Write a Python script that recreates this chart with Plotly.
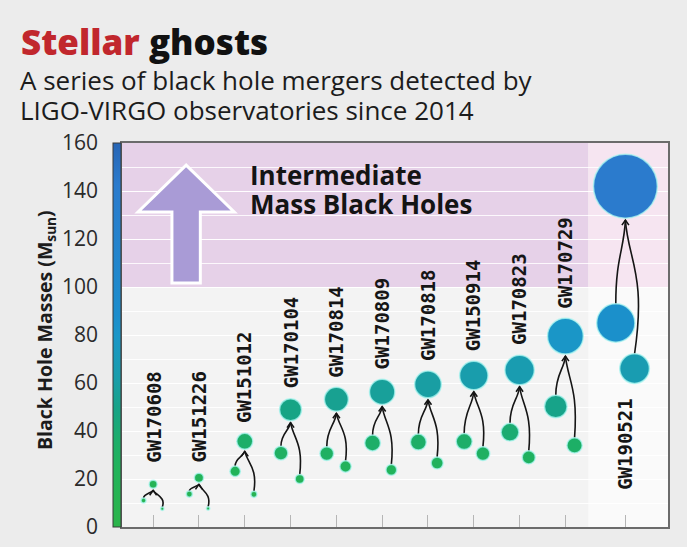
import plotly.graph_objects as go

# ---------------- data ----------------
events = ["GW170608", "GW151226", "GW151012", "GW170104", "GW170814", "GW170809",
          "GW170818", "GW150914", "GW170823", "GW170729", "GW190521"]
primary = [11.0, 13.7, 23.2, 30.8, 30.6, 35.0, 35.4, 35.6, 39.5, 50.2, 85.0]
secondary = [7.6, 7.7, 13.6, 20.0, 25.2, 23.8, 26.7, 30.6, 29.0, 34.0, 66.0]
final = [17.8, 20.5, 35.7, 48.9, 53.2, 56.3, 59.4, 63.1, 65.4, 79.5, 142.0]
y_tick_vals = [0, 20, 40, 60, 80, 100, 120, 140, 160]
imbh_threshold = 100
title_red = "Stellar"
title_black = "ghosts"
subtitle_lines = ["A series of black hole mergers detected by",
                  "LIGO-VIRGO observatories since 2014"]
region_label = ["Intermediate", "Mass Black Holes"]
y_title = "Black Hole Masses (M<sub>sun</sub>)"

# ---------------- layout constants ----------------
W, H = 687, 547
ML, MR, MT, MB = 122, 19, 143, 20
XMIN, XMAX = -0.68, 11.24
YMIN, YMAX = 0, 160
PX_X = (W - ML - MR) / (XMAX - XMIN)
PX_Y = (H - MT - MB) / (YMAX - YMIN)
SIZE_K = 0.45          # marker diameter (px) per solar mass
LAST_GAP = 0.31        # extra spacing before the last event
SPLIT = 9.5
OFF_P, OFF_S = -0.21, 0.20

xs = [i + (LAST_GAP if i == len(events) - 1 else 0) for i in range(len(events))]

def r_units(m):
    return SIZE_K * m / 2 / PX_Y

def r_units_x(m):
    return SIZE_K * m / 2 / PX_X

colorscale = [[0.0, "#2cb44a"], [0.15, "#21b35a"], [0.22, "#1dae68"],
              [0.31, "#17a387"], [0.39, "#199dab"], [0.5, "#1a96c8"],
              [0.55, "#1c8dcc"], [0.89, "#2b7bcd"], [1.0, "#2765b5"]]

fig = go.Figure()

# circles
cx, cy = [], []
for i in range(len(events)):
    cx += [xs[i] + OFF_P, xs[i] + OFF_S]
    cy += [primary[i], secondary[i]]
for i in range(len(events)):
    cx.append(xs[i])
    cy.append(final[i])
fig.add_trace(go.Scatter(
    x=cx, y=cy, mode="markers", hoverinfo="skip",
    marker=dict(size=[SIZE_K * v for v in cy], sizemode="diameter",
                color=cy, cmin=YMIN, cmax=YMAX, colorscale=colorscale,
                line=dict(width=1.5, color="rgba(170,245,240,0.75)"),
                opacity=1,
                showscale=True,
                colorbar=dict(x=0, xanchor="right", xref="paper", xpad=0,
                              y=0.5, yanchor="middle", len=1, lenmode="fraction",
                              ypad=0, thickness=8, outlinewidth=1,
                              outlinecolor="#3a3a3a", showticklabels=False,
                              ticks="")),
    showlegend=False))

shapes = []
# background regions
shapes.append(dict(type="rect", xref="x", yref="y", x0=XMIN, x1=SPLIT,
                   y0=imbh_threshold, y1=YMAX, fillcolor="#e6d1e8",
                   line=dict(width=0), layer="below"))
shapes.append(dict(type="rect", xref="x", yref="y", x0=SPLIT, x1=XMAX,
                   y0=imbh_threshold, y1=YMAX, fillcolor="#f6e5f1",
                   line=dict(width=0), layer="below"))
shapes.append(dict(type="rect", xref="x", yref="y", x0=SPLIT, x1=XMAX,
                   y0=YMIN, y1=imbh_threshold, fillcolor="#fafafa",
                   line=dict(width=0), layer="below"))

# big up-arrow
AX, AHW, ASW = 0.72, 1.05, 0.31
ATIP, ABASE, ABOT = 150.8, 131.3, 101.7
arrow_path = (f"M{AX},{ATIP} L{AX + AHW},{ABASE} L{AX + ASW},{ABASE} "
              f"L{AX + ASW},{ABOT} L{AX - ASW},{ABOT} L{AX - ASW},{ABASE} "
              f"L{AX - AHW},{ABASE} Z")
shapes.append(dict(type="path", xref="x", yref="y", path=arrow_path,
                   fillcolor="#a99bd6", line=dict(color="white", width=3),
                   layer="between"))

# merger paths
LINE = dict(color="#151515", width=1.6)
for i in range(len(events)):
    xf = xs[i]
    yt = final[i] - r_units(final[i]) - 2 / PX_Y
    # primary
    xp = xf + OFF_P
    y0 = primary[i] + r_units(primary[i])
    dy = yt - y0
    shapes.append(dict(type="path", xref="x", yref="y", layer="between",
                       line=LINE,
                       path=f"M{xp},{y0} C{xp},{y0 + 0.55 * dy} {xf - 0.03},{yt - 0.35 * dy} {xf},{yt}"))
    # secondary (bows outward around the primary circle when it is large)
    xsn = xf + OFF_S
    y0 = secondary[i] + r_units(secondary[i])
    dy = yt - y0
    c1x = xf + max(OFF_S + 0.08, OFF_P + 1.6 * r_units_x(primary[i]))
    shapes.append(dict(type="path", xref="x", yref="y", layer="between",
                       line=LINE,
                       path=f"M{xsn},{y0} C{c1x},{y0 + 0.6 * dy} {xf + 0.06},{yt - 0.3 * dy} {xf},{yt}"))
    # arrow head
    hw, hh = 3.5 / PX_X, 5 / PX_Y
    shapes.append(dict(type="path", xref="x", yref="y", layer="between",
                       line=LINE,
                       path=f"M{xf - hw},{yt - hh} L{xf},{yt} L{xf + hw},{yt - hh}"))

annotations = []
# event labels
LBL_FONT = dict(family="DejaVu Sans Mono", size=19, color="#161616", weight="bold")
for i, ev in enumerate(events):
    if i < len(events) - 1:
        yb = max(final[i] + r_units(final[i]) + 8 / PX_Y, 26)
        annotations.append(dict(x=xs[i], y=yb, xref="x", yref="y", text=f"<b>{ev}</b>",
                                textangle=-90, showarrow=False, yanchor="bottom",
                                xanchor="center", font=LBL_FONT))
    else:
        lo = min(primary[i], secondary[i])
        ytop = lo - r_units(lo) - 12 / PX_Y
        annotations.append(dict(x=xs[i], y=ytop, xref="x", yref="y", text=f"<b>{ev}</b>",
                                textangle=-90, showarrow=False, yanchor="top",
                                xanchor="center", font=LBL_FONT))

# region label
RL_FONT = dict(family="Open Sans", size=26, color="#141414", weight="bold")
annotations.append(dict(x=2.07, y=146.5, xref="x", yref="y", text=f"<b>{region_label[0]}</b>",
                        showarrow=False, xanchor="left", yanchor="middle", font=RL_FONT))
annotations.append(dict(x=2.07, y=134.5, xref="x", yref="y", text=f"<b>{region_label[1]}</b>",
                        showarrow=False, xanchor="left", yanchor="middle", font=RL_FONT))

def px_to_paper_x(px):
    return (px - ML) / (W - ML - MR)

def px_to_paper_y(py):
    return (H - MB - py) / (H - MT - MB)

# title & subtitle
annotations.append(dict(x=px_to_paper_x(19), y=px_to_paper_y(16), xref="paper", yref="paper",
                        xanchor="left", yanchor="top", showarrow=False,
                        text=f"<span style='color:#c1272d'>{title_red}</span> {title_black}",
                        font=dict(family="Open Sans", size=35, color="#111111", weight=800)))
for k, line in enumerate(subtitle_lines):
    annotations.append(dict(x=px_to_paper_x(18), y=px_to_paper_y(60 + 30 * k),
                            xref="paper", yref="paper", xanchor="left", yanchor="top",
                            showarrow=False, text=line,
                            font=dict(family="Open Sans", size=26, color="#1c1c1c")))

# y-axis title
annotations.append(dict(x=px_to_paper_x(45), y=px_to_paper_y(330), xref="paper", yref="paper",
                        xanchor="center", yanchor="middle", textangle=-90, showarrow=False,
                        text=f"<b>{y_title}</b>",
                        font=dict(family="Open Sans", size=19.5, color="#1c1c1c", weight="bold")))

fig.update_layout(
    template="none",
    width=W, height=H,
    margin=dict(l=ML, r=MR, t=MT, b=MB, pad=0),
    paper_bgcolor="#ececec",
    plot_bgcolor="#f3f3f3",
    shapes=shapes,
    annotations=annotations,
    showlegend=False,
    xaxis=dict(range=[XMIN, XMAX], showgrid=False, zeroline=False,
               tickvals=xs, showticklabels=False, ticks="inside", ticklen=12,
               tickcolor="#b5b5b5", tickwidth=1.2,
               showline=True, linecolor="#6b6b6b", linewidth=1.5, mirror=True,
               fixedrange=True),
    yaxis=dict(range=[YMIN, YMAX], tickvals=y_tick_vals,
               ticktext=[str(v) for v in y_tick_vals],
               showgrid=True, gridcolor="rgba(255,255,255,0.85)", gridwidth=1,
               minor=dict(dtick=10, showgrid=True, gridcolor="rgba(255,255,255,0.85)"),
               zeroline=False, ticks="", ticklabelstandoff=18,
               tickfont=dict(family="Open Sans", size=21, color="#2a2a2a"),
               showline=True, linecolor="#6b6b6b", linewidth=1.5, mirror=True,
               automargin=False, fixedrange=True),
)

fig.write_html("out.html", config={"displayModeBar": False},
               post_script="document.body.style.margin='0';")
